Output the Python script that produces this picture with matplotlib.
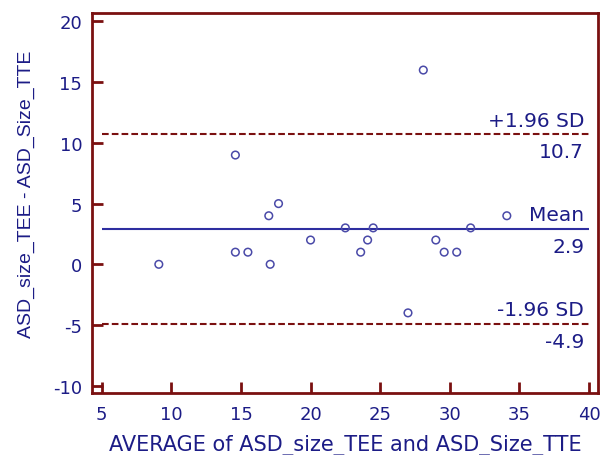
import numpy as np
import matplotlib
matplotlib.use('Agg')
import matplotlib.pyplot as plt

# the source picture is a bit stretched sideways, so the wider DejaVu Sans is used
# for horizontal text and Liberation Sans (Arial-like) for the rotated y label
plt.rcParams['font.family'] = ['DejaVu Sans']
plt.rcParams['axes.unicode_minus'] = False

# Bland-Altman data: average vs difference
avg = [9.1, 14.6, 14.6, 15.5, 17.1, 17.0, 17.7, 20.0, 22.5, 24.5,
       31.5, 23.6, 24.1, 29.0, 29.6, 30.5, 27.0, 28.1, 34.1]
diff = [0, 9, 1, 1, 0, 4, 5, 2, 3, 3,
        3, 1, 2, 2, 1, 1, -4, 16, 4]

mean_diff = 2.9
upper = 10.7
lower = -4.9

navy = '#1c1c86'
darkred = '#7a1010'
pt_col = '#4a4aa8'

fig = plt.figure(figsize=(6.09, 4.56), dpi=100)
ax = fig.add_axes([92 / 609, 1 - 394 / 456, (598 - 92) / 609, (394 - 14) / 456])

ax.scatter(avg, diff, s=30, facecolors='none', edgecolors=pt_col, linewidths=1.1, zorder=3)

ax.hlines(mean_diff, 5, 40, colors='#2e2ea0', linewidth=1.5)
ax.hlines([upper, lower], 5, 40, colors=darkred, linewidth=1.5, linestyles=(0, (3.2, 1.5)))

fs = 14.5
xr = 39.65
for yv, top, bottom in [(upper, '+1.96 SD', f'{upper}'),
                        (mean_diff, 'Mean', f'{mean_diff}'),
                        (lower, '-1.96 SD', f'{lower}')]:
    ax.text(xr, yv + 0.72, top, ha='right', va='baseline', color=navy, fontsize=fs)
    ax.text(xr, yv - 1.9, bottom, ha='right', va='baseline', color=navy, fontsize=fs)

ax.set_xlim(4.3, 40.65)
ax.set_ylim(-10.6, 20.7)
ax.set_xticks(np.arange(5, 41, 5))
ax.set_yticks(np.arange(-10, 21, 5))

for sp in ax.spines.values():
    sp.set_color(darkred)
    sp.set_linewidth(2.0)
ax.tick_params(direction='in', length=8, width=2.0, color=darkred,
               labelcolor=navy, labelsize=13)
ax.tick_params(axis='x', pad=8.5)
ax.tick_params(axis='y', pad=7)

ax.set_xlabel('AVERAGE of ASD_size_TEE and ASD_Size_TTE', color=navy, fontsize=15)
ax.set_ylabel('ASD_size_TEE - ASD_Size_TTE', color=navy, fontsize=14,
              family='Liberation Sans')
ax.xaxis.set_label_coords(0.5, -0.108)
ax.yaxis.set_label_coords(-0.113, 0.526)

fig.savefig('out.png', dpi=100)
